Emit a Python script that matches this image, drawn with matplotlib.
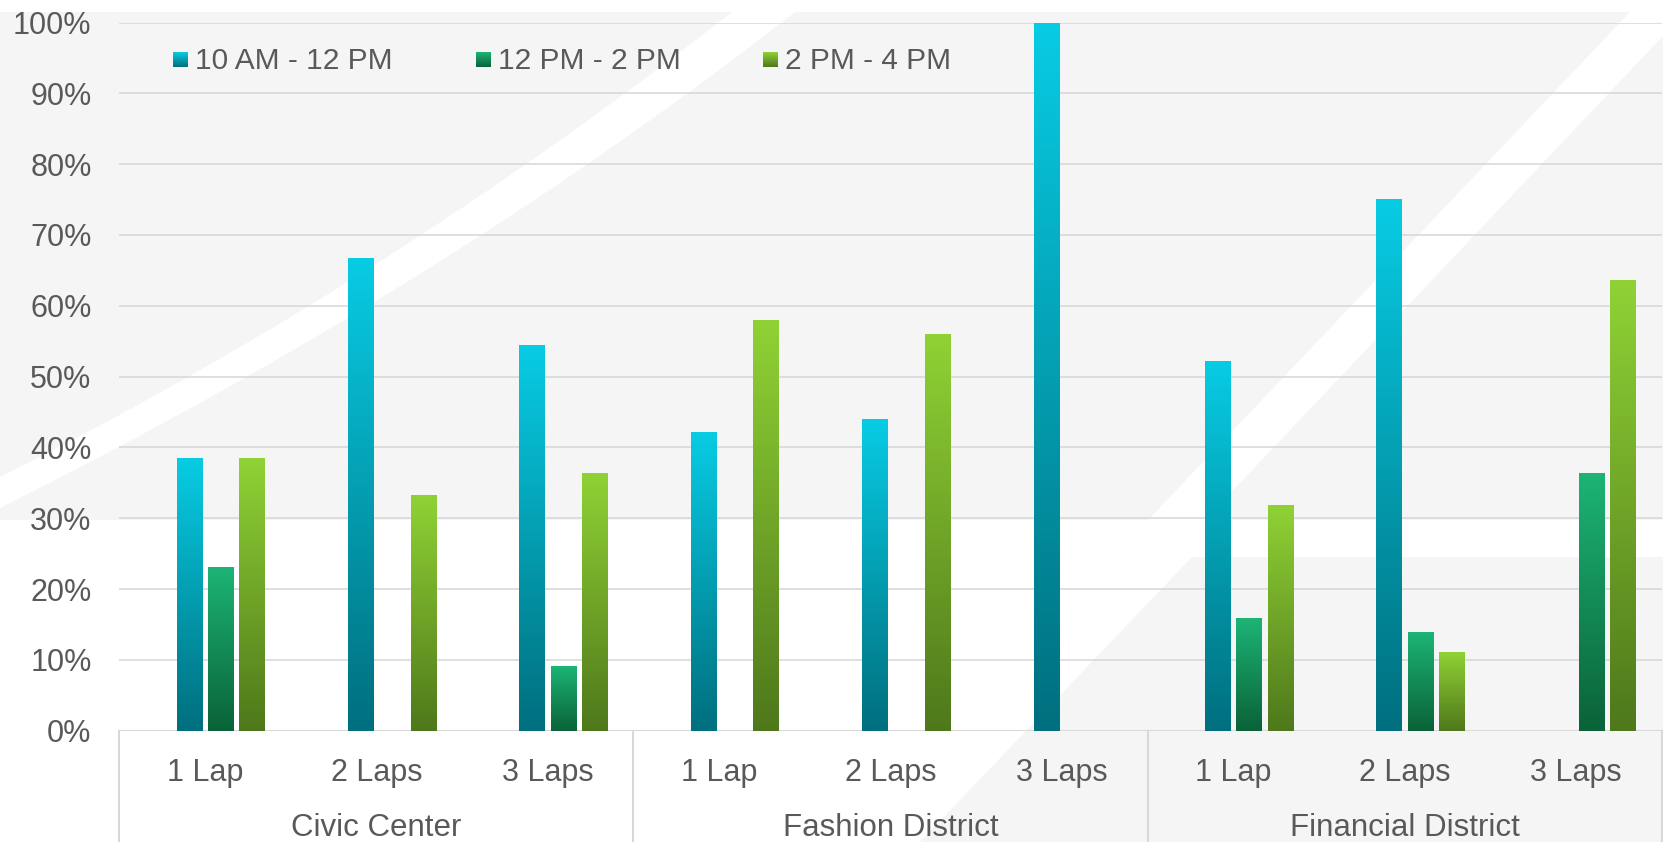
import numpy as np
import matplotlib.pyplot as plt
from matplotlib.colors import LinearSegmentedColormap
from matplotlib.patches import Polygon
import matplotlib.transforms as mtransforms

plt.rcParams["font.family"] = ["Liberation Sans", "DejaVu Sans"]

# Share of riders per time slot, by district and number of laps
groups = ["Civic Center", "Fashion District", "Financial District"]
laps = ["1 Lap", "2 Laps", "3 Laps"]
series = ["10 AM - 12 PM", "12 PM - 2 PM", "2 PM - 4 PM"]

morning = [38.5, 66.7, 54.5, 42.1, 44.0, 100.0, 52.2, 75.0, 0.0]
midday = [23.1, 0.0, 9.1, 0.0, 0.0, 0.0, 15.9, 13.9, 36.4]
afternoon = [38.5, 33.3, 36.4, 57.9, 56.0, 0.0, 31.8, 11.1, 63.6]

# (top, bottom) colour of each series gradient
gradients = [("#08cce4", "#006f7e"), ("#1db476", "#0a6238"), ("#90d235", "#4f781b")]

text_color = "#595959"
grid_color = "#d9d9d9"
bg_gray = "#f5f5f5"

W, H = 1663, 842
fig = plt.figure(figsize=(W / 100, H / 100), dpi=100, facecolor="white")


def fig_pts(points):
    return [(x / W, 1 - y / H) for x, y in points]


def curve(p0, p1, p2, n=30):
    # quadratic bezier used for the soft diagonal stripe
    t = np.linspace(0, 1, n)[:, None]
    p0, p1, p2 = map(np.array, (p0, p1, p2))
    pts = (1 - t) ** 2 * p0 + 2 * (1 - t) * t * p1 + t ** 2 * p2
    return [tuple(p) for p in pts]


# -------------------------
# Background shapes
# -------------------------
upper_edge = curve((732, 12), (379, 288), (0, 477))
lower_edge = curve((795, 12), (445, 286), (0, 508))

shapes = [
    [(0, 12)] + upper_edge,
    [(1630, 12), (1148, 520), (0, 520)] + lower_edge[::-1],
    [(1663, 36), (1663, 520), (1205, 520)],
    [(1192, 557), (1663, 557), (1663, H), (920, H)],
]
for pts in shapes:
    fig.add_artist(Polygon(fig_pts(pts), closed=True, transform=fig.transFigure,
                           facecolor=bg_gray, edgecolor="none", zorder=-5))

ax = fig.add_axes([119.3 / W, 1 - 730.7 / H, 1542.4 / W, 708.2 / H])
ax.set_facecolor("none")
for s in ax.spines.values():
    s.set_visible(False)

n_cat = len(groups) * len(laps)
x = np.arange(n_cat) + 0.5
pitch = 0.1826
width = 0.1476
offsets = [-0.5 * pitch, 0.5 * pitch, 1.5 * pitch]
grad = np.linspace(1, 0, 256).reshape(-1, 1)

for vals, off, (top, bottom), name in zip([morning, midday, afternoon], offsets, gradients, series):
    cmap = LinearSegmentedColormap.from_list(name, [bottom, top])
    bars = ax.bar(x + off, vals, width, color="none", edgecolor="none")
    for b in bars:
        h = b.get_height()
        if h <= 0:
            continue
        x0 = b.get_x()
        ax.imshow(grad, cmap=cmap, extent=[x0, x0 + width, 0, h],
                  aspect="auto", interpolation="bilinear", zorder=3)

ax.set_xlim(0, n_cat)
ax.set_ylim(0, 100)

# -------------------------
# Axes, grid and labels
# -------------------------
ax.set_yticks(np.arange(0, 101, 10))
ax.set_yticklabels([f"{v}%" for v in range(0, 101, 10)])
ax.tick_params(axis="y", length=0, pad=20, labelsize=22, labelcolor=text_color)
ax.set_xticks([])
ax.yaxis.grid(True, color=grid_color, linewidth=1.2, zorder=0)
ax.set_axisbelow(True)
ax.axhline(0, color=grid_color, linewidth=1.5, zorder=1)

trans = mtransforms.blended_transform_factory(ax.transData, ax.transAxes)
for i in range(n_cat):
    ax.text(x[i], -0.060, laps[i % 3], transform=trans, ha="center", va="center",
            fontsize=22, color=text_color)
for g, name in enumerate(groups):
    ax.text(g * 3 + 1.5, -0.1375, name, transform=trans, ha="center", va="center",
            fontsize=22.5, color=text_color)
for xs in range(0, n_cat + 1, 3):
    ax.plot([xs, xs], [0, -0.2], transform=trans, color=grid_color,
            linewidth=1.5, clip_on=False)

# -------------------------
# Legend
# -------------------------
legend_x = [0.313, 2.084, 3.755]
sq_w, sq_h = 0.082, 2.0
for lx, (top, bottom), name in zip(legend_x, gradients, series):
    cmap = LinearSegmentedColormap.from_list(name + "_leg", [bottom, top])
    ax.imshow(grad, cmap=cmap, extent=[lx, lx + sq_w, 93.7, 93.7 + sq_h],
              aspect="auto", interpolation="bilinear", zorder=4)
    ax.text(lx + sq_w + 0.045, 94.6, name, ha="left", va="center",
            fontsize=21.5, color=text_color)

ax.set_xlim(0, n_cat)
ax.set_ylim(0, 100)

fig.savefig("out.png", dpi=100, facecolor="white")
